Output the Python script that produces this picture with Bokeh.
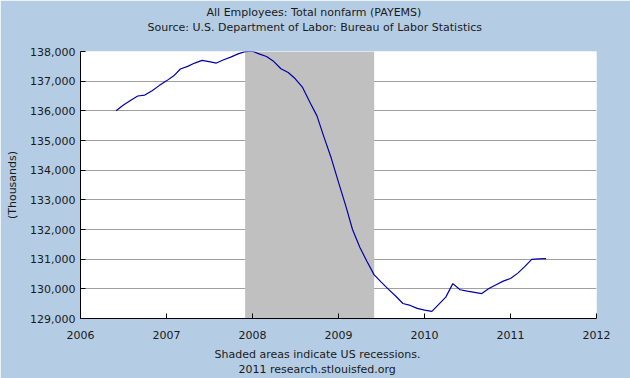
import pandas as pd
from bokeh.plotting import figure
from bokeh.models import (Range1d, FixedTicker, NumeralTickFormatter, DatetimeTickFormatter,
                          BoxAnnotation, Title)
from bokeh.embed import file_html
from bokeh.resources import INLINE

# ---- data ----
title_line1 = "All Employees: Total nonfarm (PAYEMS)"
title_line2 = "Source: U.S. Department of Labor: Bureau of Labor Statistics"
note_line1 = "Shaded areas indicate US recessions."
note_line2 = "2011 research.stlouisfed.org"
y_label = "(Thousands)"

months = [
    "2006-06", "2006-07", "2006-08", "2006-09", "2006-10", "2006-11", "2006-12",
    "2007-01", "2007-02", "2007-03", "2007-04", "2007-05", "2007-06",
    "2007-07", "2007-08", "2007-09", "2007-10", "2007-11", "2007-12",
    "2008-01", "2008-02", "2008-03", "2008-04", "2008-05", "2008-06",
    "2008-07", "2008-08", "2008-09", "2008-10", "2008-11", "2008-12",
    "2009-01", "2009-02", "2009-03", "2009-04", "2009-05", "2009-06",
    "2009-07", "2009-08", "2009-09", "2009-10", "2009-11", "2009-12",
    "2010-01", "2010-02", "2010-03", "2010-04", "2010-05", "2010-06",
    "2010-07", "2010-08", "2010-09", "2010-10", "2010-11", "2010-12",
    "2011-01", "2011-02", "2011-03", "2011-04", "2011-05", "2011-06",
]
payems = [
    136000, 136190, 136350, 136500, 136530, 136680, 136850,
    137010, 137180, 137410, 137500, 137610, 137700,
    137660, 137610, 137720, 137810, 137920, 137995,
    138010, 137910, 137830, 137660, 137420, 137290,
    137080, 136790, 136290, 135830, 135090, 134400,
    133580, 132780, 132000, 131400, 130930, 130470,
    130225, 129980, 129750, 129505, 129440, 129340,
    129280, 129240, 129470, 129720, 130175, 129970,
    129920, 129880, 129840, 130010, 130140, 130260,
    130350, 130530, 130740, 130995, 131010, 131020,
]
recession_start = "2007-12-01"
recession_end = "2009-06-01"
x_tick_years = [2006, 2007, 2008, 2009, 2010, 2011, 2012]
y_ticks = [129000, 130000, 131000, 132000, 133000, 134000, 135000, 136000, 137000, 138000]

# ---- helpers ----
def ms(s):
    return pd.Timestamp(s).timestamp() * 1000.0

x = pd.to_datetime([m + "-01" for m in months])

BG = "#B4CDE4"
FONT = "DejaVu Sans"
FS = "11px"
TXT = "#1a1a1a"

p = figure(width=630, height=378, x_axis_type="datetime",
           output_backend="svg", toolbar_location=None,
           x_range=Range1d(ms(f"{x_tick_years[0]}-01-01"), ms(f"{x_tick_years[-1]}-01-01")),
           y_range=Range1d(y_ticks[0], y_ticks[-1]),
           min_border_left=80, min_border_right=34, min_border_top=51, min_border_bottom=60)
p.background_fill_color = "white"
p.border_fill_color = BG
p.outline_line_color = None

# recession shading (underlay, drawn over the grid)
p.add_layout(BoxAnnotation(left=ms(recession_start), right=ms(recession_end),
                           fill_color="#C0C0C0", fill_alpha=1.0, line_color=None,
                           level="underlay"))

p.line(x, payems, line_color="#0000A8", line_width=1.2)

# axes
p.xaxis.ticker = FixedTicker(ticks=[ms(f"{y}-01-01") for y in x_tick_years])
p.xaxis.formatter = DatetimeTickFormatter(years="%Y", months="%Y", days="%Y")
p.yaxis.ticker = FixedTicker(ticks=y_ticks)
p.yaxis.formatter = NumeralTickFormatter(format="0,0")
for ax in (p.xaxis, p.yaxis):
    ax.axis_line_color = "black"
    ax.axis_line_width = 1
    ax.major_tick_line_color = "black"
    ax.major_tick_in = 5
    ax.major_tick_out = 0
    ax.minor_tick_line_color = None
    ax.major_label_text_font = FONT
    ax.major_label_text_font_size = FS
    ax.major_label_text_color = TXT
p.xaxis.major_label_standoff = 12
p.yaxis.major_label_standoff = 5
p.yaxis.axis_label = y_label
p.yaxis.axis_label_text_font = FONT
p.yaxis.axis_label_text_font_size = FS
p.yaxis.axis_label_text_font_style = "normal"
p.yaxis.axis_label_text_color = TXT
p.yaxis.axis_label_standoff = 8

p.xgrid.grid_line_color = None
p.ygrid.grid_line_color = "#A0A0A0"
p.ygrid.grid_line_width = 1

def title(text, offset, size=FS, standoff=0):
    return Title(text=text, align="left", offset=offset, standoff=standoff,
                 text_font=FONT, text_font_size=size, text_font_style="normal",
                 text_color=TXT)

# titles above (first added is nearest the frame)
p.add_layout(title(" ", 0, "11px", 3), "above")       # spacer
p.add_layout(title(title_line2, 67), "above")
p.add_layout(title(title_line1, 126), "above")

# notes below (first added is nearest the x axis)
p.add_layout(title(" ", 0, "2px"), "below")           # spacer
p.add_layout(title(note_line1, 134), "below")
p.add_layout(title(note_line2, 158), "below")

open("out.html", "w").write(file_html(p, INLINE))
